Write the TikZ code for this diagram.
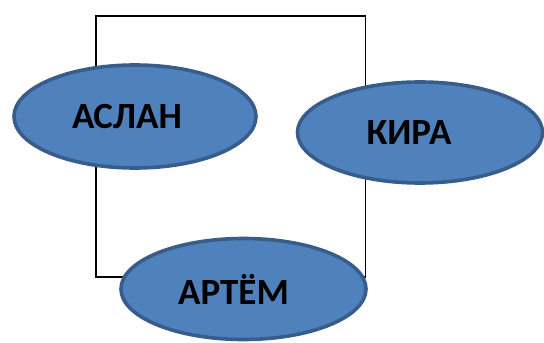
\documentclass[tikz,border=0pt]{standalone}
\usepackage{fontspec}
\setmainfont{Carlito}
\usetikzlibrary{shapes.geometric}
\definecolor{ovalfill}{HTML}{4F81BD}
\definecolor{ovalline}{HTML}{385D8A}

\begin{document}
\begin{tikzpicture}[x=1pt, y=-1pt]
    % Stil der Ellipsen
    \tikzset{
        oval/.style={
            draw=ovalline, fill=ovalfill, ellipse, line width=3.6pt, inner sep=0pt,
            minimum width=242pt, minimum height=103pt
        },
        ovaltext/.style={font=\fontsize{37}{40}\selectfont\bfseries, text=black}
    }
    \useasboundingbox (0,0) rectangle (544,343);

    % Rahmen
    \coordinate (nw) at (96,16);
    \coordinate (se) at (365.5,277);
    \draw[line width=1.5pt] (nw) rectangle (se);

    % Ellipsen
    \node[oval] (aslan) at (135,116.5) {};
    \node[oval, minimum width=245pt, minimum height=101pt] (kira) at (420,132.5) {};
    \node[oval, minimum width=245pt, minimum height=101pt] (artem) at (243.5,289) {};

    \node[ovaltext] (aslantext) at ([xshift=-8pt]aslan.center) {АСЛАН};
    \node[ovaltext] (kiratext) at ([xshift=-11pt]kira.center) {КИРА};
    \node[ovaltext] (artemtext) at ([xshift=-10pt]artem.center) {АРТЁМ};
\end{tikzpicture}
\end{document}
